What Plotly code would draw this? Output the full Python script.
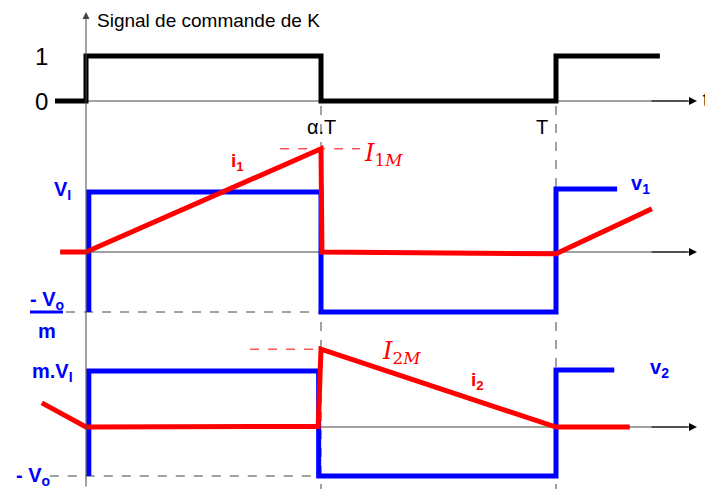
import plotly.graph_objects as go

# time axis in units of T, alpha = 0.5
ALPHA = 0.5

# control signal of K
t_cmd = [-0.066, 0, 0, ALPHA, ALPHA, 1.0, 1.0, 1.221]
v_cmd = [0, 0, 1, 1, 0, 0, 1, 1]

# primary side: v1 (blue) and i1 (red)
t_v1 = [0.006, 0.006, ALPHA, ALPHA, 1.0, 1.0, 1.13]
v_v1 = [-1.0, 1.0, 1.0, -1.0, -1.0, 1.05, 1.05]
t_i1 = [-0.055, 0, ALPHA, 0.502, 1.0, 1.204]
v_i1 = [0, 0, 1.72, 0, -0.03, 0.72]

# secondary side: v2 (blue) and i2 (red)
t_v2 = [0.006, 0.006, 0.495, 0.495, 1.0, 1.0, 1.124]
v_v2 = [-0.875, 1.0, 1.0, -0.875, -0.875, 1.02, 1.02]
t_i2 = [-0.094, 0, 0.494, 0.5, 1.0, 1.157]
v_i2 = [0.43, 0, 0.01, 1.39, 0, 0]

I1M = 1.72
I2M = 1.39

BLUE = '#0000FF'
RED = '#FF0000'
AXC = '#444444'

# page has an 8px body margin: the figure is sized so it fits the window
W, H, OFF = 705, 481, 8

fig = go.Figure()

fig.add_trace(go.Scatter(x=t_cmd, y=v_cmd, mode='lines', yaxis='y',
                         line=dict(color='black', width=5)))
fig.add_trace(go.Scatter(x=t_v1, y=v_v1, mode='lines', yaxis='y2',
                         line=dict(color=BLUE, width=5)))
fig.add_trace(go.Scatter(x=t_i1, y=v_i1, mode='lines', yaxis='y2',
                         line=dict(color=RED, width=5)))
fig.add_trace(go.Scatter(x=t_v2, y=v_v2, mode='lines', yaxis='y3',
                         line=dict(color=BLUE, width=5)))
fig.add_trace(go.Scatter(x=t_i2, y=v_i2, mode='lines', yaxis='y3',
                         line=dict(color=RED, width=5)))
# time-axis name, sitting on the right edge (partly cut like the original)
fig.add_trace(go.Scatter(x=[1.312], y=[0], mode='text', yaxis='y', text=['t'],
                         textposition='middle right', cliponaxis=False,
                         textfont=dict(size=22, color='black', family='Liberation Sans, Arial')))

shapes = []
# horizontal time axes (thin)
for yr in ['y', 'y2', 'y3']:
    shapes.append(dict(type='line', xref='x', yref=yr, x0=0, x1=1.28, y0=0, y1=0,
                       line=dict(color=AXC, width=1), layer='below'))
# vertical dashed lines at alpha.T and T
for tx in [ALPHA, 1.0]:
    shapes.append(dict(type='line', xref='x', yref='paper', x0=tx, x1=tx,
                       y0=1 - (106 - OFF) / H, y1=0,
                       line=dict(color=AXC, width=1, dash='dash'), layer='below'))
# level dashed lines
shapes.append(dict(type='line', xref='x', yref='y2', x0=-0.119, x1=ALPHA, y0=-1, y1=-1,
                   line=dict(color=AXC, width=1, dash='dash'), layer='below'))
shapes.append(dict(type='line', xref='x', yref='y3', x0=-0.077, x1=ALPHA, y0=-0.875, y1=-0.875,
                   line=dict(color=AXC, width=1, dash='dash'), layer='below'))
shapes.append(dict(type='line', xref='x', yref='y2', x0=0.413, x1=0.583, y0=I1M, y1=I1M,
                   line=dict(color=RED, width=1, dash='dash'), layer='below'))
shapes.append(dict(type='line', xref='x', yref='y3', x0=0.349, x1=ALPHA, y0=I2M, y1=I2M,
                   line=dict(color=RED, width=1, dash='dash'), layer='below'))
# fraction bar of -Vo/m
shapes.append(dict(type='line', xref='x', yref='y2', x0=-0.119, x1=-0.049, y0=-1.0, y1=-1.0,
                   line=dict(color=BLUE, width=3)))

ann = []
# arrows of the axes
for yr in ['y', 'y2', 'y3']:
    ann.append(dict(x=1.3, y=0, xref='x', yref=yr, ax=1.2, ay=0, axref='x', ayref=yr,
                    text='', showarrow=True, arrowhead=2, arrowsize=1.6, arrowwidth=1,
                    arrowcolor='black'))
ann.append(dict(x=0, y=1.98, xref='x', yref='y', ax=0, ay=-8.6, axref='x', ayref='y',
                text='', showarrow=True, arrowhead=2, arrowsize=1.4, arrowwidth=1,
                arrowcolor=AXC))

ARIAL = 'Liberation Sans, Arial'


def label(x, y, yref, text, size, color='black', xanchor='center', family=ARIAL):
    ann.append(dict(x=x, y=y, xref='x', yref=yref, text=text, showarrow=False,
                    xanchor=xanchor, yanchor='middle',
                    font=dict(size=size, color=color, family=family)))


label(0.019, 1.8, 'y', 'Signal de commande de K', 19, xanchor='left')
label(-0.094, 1, 'y', '1', 24)
label(-0.094, 0, 'y', '0', 24)
label(0.5, -0.58, 'y', 'α.T', 20)
label(0.97, -0.58, 'y', 'T', 20)

label(0.323, 1.5, 'y2', '<b>i<sub>1</sub></b>', 19, RED)
label(0.587, 1.62, 'y2', '<i>I</i><sub>1<i>M</i></sub>', 24, RED, 'left', 'DejaVu Serif')
label(-0.051, 1.03, 'y2', '<b>V<sub>I</sub></b>', 20, BLUE)
label(1.179, 1.12, 'y2', '<b>v<sub>1</sub></b>', 20, BLUE)
label(-0.083, -0.8, 'y2', '<b>- V<sub>o</sub></b>', 20, BLUE)
label(-0.083, -1.32, 'y2', '<b>m</b>', 20, BLUE)

label(-0.072, 0.98, 'y3', '<b>m.V<sub>I</sub></b>', 20, BLUE)
label(-0.113, -0.875, 'y3', '<b>- V<sub>o</sub></b>', 20, BLUE)
label(0.626, 1.33, 'y3', '<i>I</i><sub>2<i>M</i></sub>', 24, RED, 'left', 'DejaVu Serif')
label(0.834, 0.82, 'y3', '<b>i<sub>2</sub></b>', 19, RED)
label(1.221, 1.05, 'y3', '<b>v<sub>2</sub></b>', 20, BLUE)

hidden = dict(visible=False, fixedrange=True)
x0p = 86 - OFF
fig.update_layout(
    width=W, height=H,
    margin=dict(l=0, r=0, t=0, b=0),
    paper_bgcolor='white', plot_bgcolor='white',
    showlegend=False,
    xaxis=dict(range=[-x0p / 470, (W - x0p) / 470], **hidden),
    yaxis=dict(range=[(101 - OFF - H) / 45, (101 - OFF) / 45], **hidden),
    yaxis2=dict(range=[(252 - OFF - H) / 60, (252 - OFF) / 60], overlaying='y', **hidden),
    yaxis3=dict(range=[(427 - OFF - H) / 56, (427 - OFF) / 56], overlaying='y', **hidden),
    shapes=shapes,
    annotations=ann,
)

fig.write_html("out.html")
